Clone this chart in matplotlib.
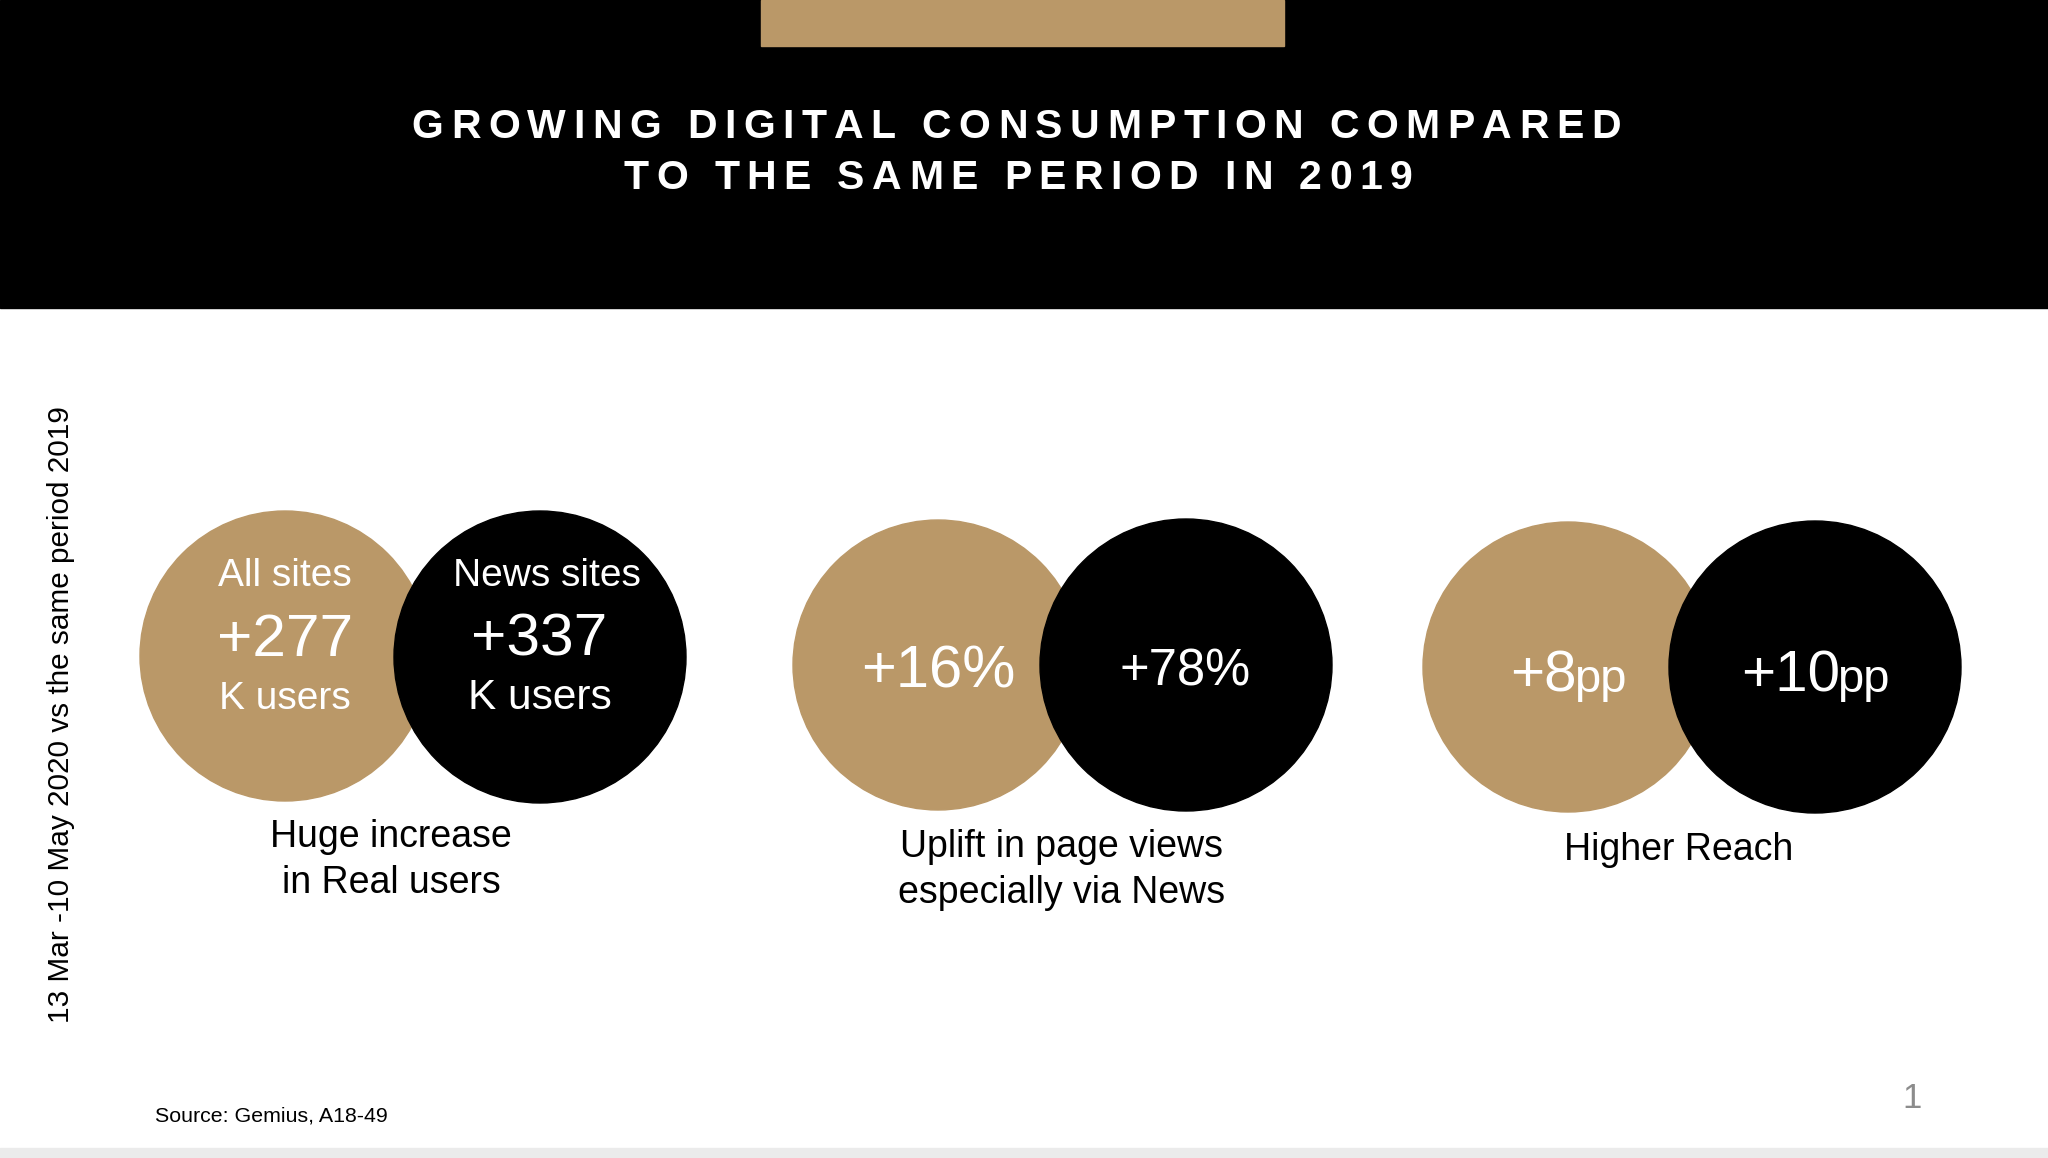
import matplotlib
matplotlib.use('Agg')
import matplotlib.pyplot as plt
from matplotlib.patches import Circle, Rectangle
from matplotlib.font_manager import FontProperties, findfont
from matplotlib.ft2font import FT2Font

W, H, DPI = 2048, 1158, 100
GOLD = '#BA9868'
FONT = 'Liberation Sans'

title_lines = ['GROWING DIGITAL CONSUMPTION COMPARED', 'TO THE SAME PERIOD IN 2019']
side_note = '13 Mar -10 May 2020 vs the same period 2019'
source = 'Source: Gemius, A18-49'
page_no = '1'

# group 1: real users (K users)
users_headers = ['All sites', 'News sites']
users_values = ['+277', '+337']
users_unit = 'K users'
# group 2: page views uplift
views_values = ['+16%', '+78%']
# group 3: reach (pp)
reach_values = ['+8', '+10']
reach_unit = 'pp'

captions = [['Huge increase', 'in Real users'],
            ['Uplift in page views', 'especially via News'],
            ['Higher Reach']]

# layout (pixels)
centers = [((285, 656), (540, 657)),
           ((938, 665), (1186, 665)),
           ((1568, 667), (1815, 667))]
RADIUS = 145
caption_pos = [(391, 847), (1062, 857), (1679, 860)]
CAPTION_STEP = 46


def adv_width(s, size, weight='normal'):
    prop = FontProperties(family=FONT, weight=weight)
    font = FT2Font(findfont(prop))
    font.set_size(size, DPI)
    return [font.load_char(ord(c)).linearHoriAdvance / 65536.0 for c in s]


def tracked_text(ax, xc, y, s, size, track, **kw):
    advs = adv_width(s, size, kw.get('weight', 'normal'))
    total = sum(advs) + track * (len(s) - 1)
    x = xc - total / 2.0
    for c, a in zip(s, advs):
        if c != ' ':
            ax.text(x + a / 2.0, y, c, fontsize=size, ha='center', va='baseline',
                    family=FONT, **kw)
        x += a + track


fig = plt.figure(figsize=(W / DPI, H / DPI), dpi=DPI)
ax = fig.add_axes([0, 0, 1, 1])
ax.set_xlim(0, W)
ax.set_ylim(H, 0)
ax.axis('off')

# header band
ax.add_patch(Rectangle((0, 0), W, 308, color='black', zorder=1))
ax.add_patch(Rectangle((761, 0), 523, 46, color=GOLD, zorder=2))
tracked_text(ax, 1016, 138, title_lines[0], 29.5, 7.4, color='white', weight='bold')
tracked_text(ax, 1018, 189, title_lines[1], 29.5, 7.4, color='white', weight='bold')

# bottom strip
ax.add_patch(Rectangle((0, 1148), W, 10, color='#ebebeb', zorder=1))

# circles
for (gc, bc) in centers:
    ax.add_patch(Circle(gc, RADIUS, color=GOLD, zorder=2))
    ax.add_patch(Circle(bc, RADIUS + 1, color='black', zorder=3))

# group 1 text
g1_x = [(285, 285, 285), (547, 539, 540)]
unit_sizes = [28, 30.5]
for i in range(2):
    hx, vx, ux = g1_x[i]
    ax.text(hx, 586, users_headers[i], fontsize=28, color='white', ha='center',
            va='baseline', family=FONT, zorder=5)
    ax.text(vx, 656, users_values[i], fontsize=43.5, color='white', ha='center',
            va='baseline', family=FONT, zorder=5)
    ax.text(ux, 709, users_unit, fontsize=unit_sizes[i], color='white', ha='center',
            va='baseline', family=FONT, zorder=5)

# group 2 text
ax.text(938, 687, views_values[0], fontsize=43, color='white', ha='center',
        va='baseline', family=FONT, zorder=5)
ax.text(1185, 686, views_values[1], fontsize=36.5, color='white', ha='center',
        va='baseline', family=FONT, zorder=5)

# group 3 text
for i, v in enumerate(reach_values):
    cx = centers[2][i][0]
    w1 = sum(adv_width(v, 42))
    w2 = sum(adv_width(reach_unit, 34))
    x0 = cx - (w1 + w2 - 4) / 2.0
    ax.text(x0 + w1, 692, v, fontsize=42, color='white', ha='right',
            va='baseline', family=FONT, zorder=5)
    ax.text(x0 + w1 - 3, 692, reach_unit, fontsize=34, color='white', ha='left',
            va='baseline', family=FONT, zorder=5)

# captions
for lines, (cx, by) in zip(captions, caption_pos):
    for k, line in enumerate(lines):
        ax.text(cx, by + k * CAPTION_STEP, line, fontsize=27, color='black',
                ha='center', va='baseline', family=FONT, zorder=5)

# side note, source, page number
ax.text(61, 715, side_note, fontsize=21.4, rotation=90, ha='center', va='center',
        family=FONT, color='black')
ax.text(155, 1122, source, fontsize=15.4, ha='left', va='baseline', family=FONT,
        color='black')
ax.text(1912, 1108, page_no, fontsize=25, ha='center', va='baseline', family=FONT,
        color='#8c8c8c')

fig.savefig('out.png', dpi=DPI)
